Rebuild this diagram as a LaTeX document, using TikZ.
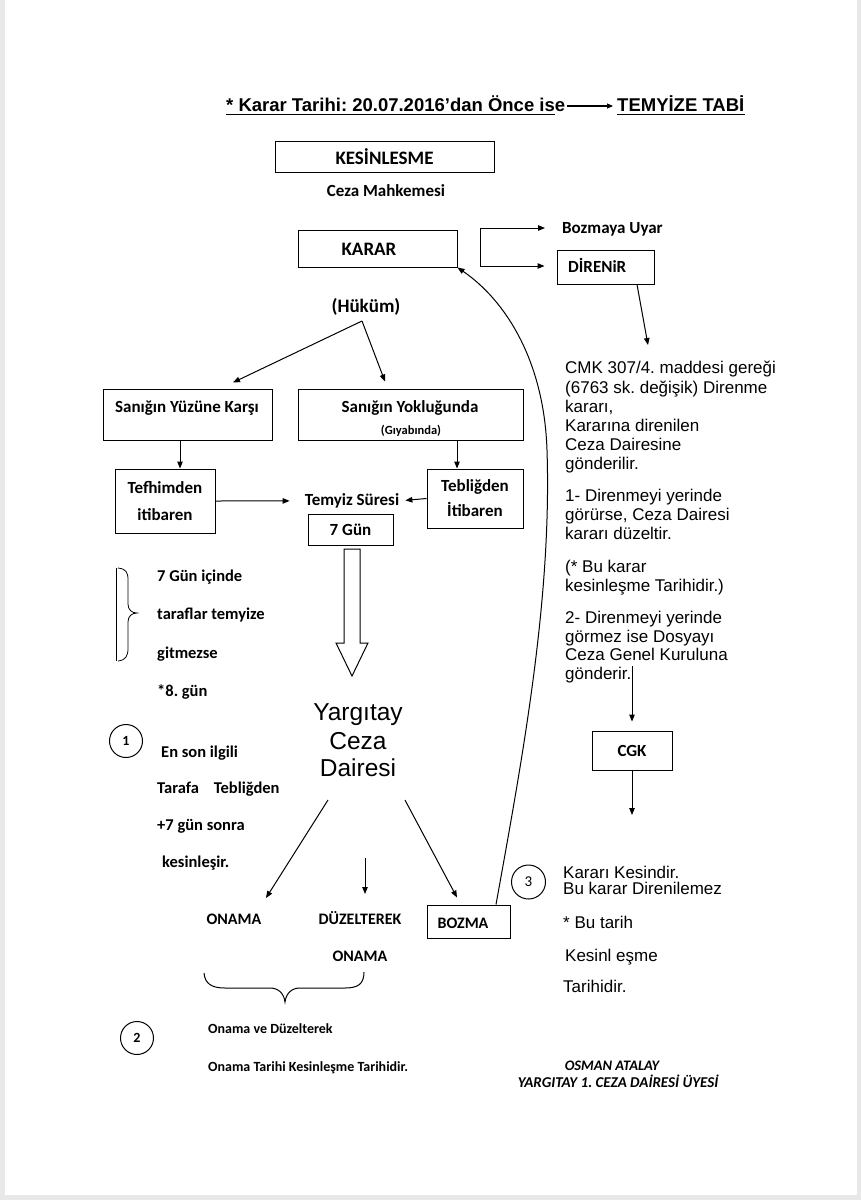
\documentclass[tikz,border=0pt]{standalone}
\usepackage{fontspec}
\setmainfont{Carlito}
\newfontfamily\arial{Liberation Sans}
\usetikzlibrary{arrows.meta}
\newcommand\myfs[1]{\fontsize{#1}{#1}\selectfont}
\frenchspacing
\begin{document}
\begin{tikzpicture}[x=1pt,y=-1pt,
  arr/.style={-{Triangle[length=7pt,width=5.5pt]}, line width=1pt},
  boxx/.style={draw, line width=1pt, inner sep=0pt},
  cb/.style={font=\bfseries\myfs{17}, inner sep=0pt},
  lt/.style={font=\bfseries\myfs{16.5}, inner sep=0pt, anchor=base west},
  ar/.style={font=\arial\myfs{17}, inner sep=0pt, anchor=base west},
  circ/.style={draw, circle, line width=1pt, minimum size=33pt, inner sep=0pt}]
\useasboundingbox (0,0) rectangle (861,1200);
\fill[black!9] (0,0) rectangle (861,1200);
\fill[white] (5,0) rectangle (857,1195);

% title
\node[font=\arial\bfseries\myfs{18.5}, inner sep=0pt, anchor=base west] (t1) at (226,111) {* Karar Tarihi: 20.07.2016’dan Önce ise};
\node[font=\arial\bfseries\myfs{18.5}, inner sep=0pt, anchor=base west] (t2) at (617,111) {TEMYİZE TABİ};
\draw[line width=1.1pt] ([yshift=-3.5pt]t1.base west) -- ([yshift=-3.5pt,xshift=-10pt]t1.base east);
\draw[line width=1.1pt] ([yshift=-3.5pt]t2.base west) -- ([yshift=-3.5pt]t2.base east);
\draw[-{Triangle[length=6pt,width=5pt]}, line width=1.1pt] ([xshift=2pt,yshift=5pt]t1.base east) -- ([xshift=-4pt,yshift=5pt]t2.base west);

% top
\node[boxx, minimum width=219pt, minimum height=31pt, font=\bfseries\myfs{19}] (kes) at (384.5,156.5) {KESİNLESME};
\node[cb, anchor=base] (ceza) at (386,196.5) {Ceza Mahkemesi};
\node[boxx, minimum width=159pt, minimum height=37pt] (karar) at (377.5,248.5) {};
\node[cb, font=\bfseries\myfs{19}, anchor=base] (kararT) at (369,255) {KARAR};

\coordinate (brt) at (480,228);
\coordinate (brb) at (480,266);
\node[cb, anchor=base west] (boz) at (562,233.5) {Bozmaya Uyar};
\node[boxx, minimum width=97pt, minimum height=34pt] (dir) at (605.5,267) {};
\node[cb, anchor=base west] (dirT) at (568,272.5) {DİRENiR};
\draw[line width=1pt] (brt) -- (brb);
\draw[arr, shorten >=17pt] (brt) -- (brt -| boz.west);
\draw[arr, shorten >=12pt] (brb) -- (brb -| dir.west);
\coordinate (cmkin) at (648,345);
\draw[arr] ([xshift=31.5pt]dir.south) -- (cmkin);

% right text
\node[ar] (r1) at (565,373.5) {CMK 307/4. maddesi gereği};
\node[ar] (r2) at (565,393.5) {(6763 sk. değişik) Direnme};
\node[ar] (r3) at (565,412.5) {kararı,};
\node[ar] (r4) at (565,431.5) {Kararına direnilen};
\node[ar] (r5) at (565,450.5) {Ceza Dairesine};
\node[ar] (r6) at (565,469.5) {gönderilir.};
\node[ar] (r7) at (565,501.5) {1- Direnmeyi yerinde};
\node[ar] (r8) at (565,520.5) {görürse, Ceza Dairesi};
\node[ar] (r9) at (565,539.5) {kararı düzeltir.};
\node[ar] (r10) at (565,572.5) {(* Bu karar};
\node[ar] (r11) at (565,591.5) {kesinleşme Tarihidir.)};
\node[ar] (r12) at (565,623.5) {2- Direnmeyi yerinde};
\node[ar] (r13) at (565,642.5) {görmez ise Dosyayı};
\node[ar] (r14) at (565,660.5) {Ceza Genel Kuruluna};
\node[ar] (r15) at (565,679.5) {gönderir.};

\node[boxx, cb, minimum width=80pt, minimum height=39pt] (cgk) at (632,750.5) {CGK};
\coordinate (gd) at (632,666);
\draw[arr, shorten >=9pt] (gd) -- (cgk.north);
\coordinate (cgkout) at (632,815);
\draw[arr] (cgk.south) -- (cgkout);

% hukum
\node[cb, font=\bfseries\myfs{19}, anchor=base] (hukum) at (366,312) {(Hüküm)};
\coordinate (hk) at (362,321);
\node[boxx, minimum width=169pt, minimum height=51pt] (yuz) at (187.5,414.5) {};
\node[cb, anchor=base] (yuzT) at (187,412.5) {Sanığın Yüzüne Karşı};
\node[boxx, minimum width=225pt, minimum height=51pt] (yok) at (410.5,414.5) {};
\node[cb, anchor=base] (yokT) at (410,412.5) {Sanığın Yokluğunda};
\node[cb, font=\bfseries\myfs{12.5}, anchor=base] (giy) at (411,434.5) {(Gıyabında)};
\draw[arr] (hk) -- ([xshift=45.5pt,yshift=6pt]yuz.north);
\draw[arr] (hk) -- ([xshift=-25.5pt,yshift=7pt]yok.north);

\node[boxx, minimum width=100pt, minimum height=64pt, align=center, font=\bfseries\fontsize{17}{27}\selectfont] (tef) at (165,501) {Tefhimden\\itibaren};
\node[boxx, minimum width=96pt, minimum height=59pt, align=center, font=\bfseries\fontsize{17}{25}\selectfont] (teb) at (475,498.5) {Tebliğden\\İtibaren};
\draw[arr] ([xshift=-7.5pt]yuz.south) -- ([xshift=15pt]tef.north);
\draw[arr] ([xshift=46.5pt]yok.south) -- ([xshift=-18pt]teb.north);
\node[cb, anchor=base] (tem) at (352,505.5) {Temyiz Süresi};
\draw[arr, shorten >=15pt] (tef.east) -- (tem.west);
\draw[arr, shorten >=6pt] (teb.west) -- (tem.east);
\node[boxx, cb, minimum width=85pt, minimum height=31pt] (gun) at (350.5,529.5) {7 Gün};

% hollow arrow
\draw[line width=1pt, fill=white] (344,549) -- (360,549) -- (360,643) -- (368,643) -- (352,676) -- (336,643) -- (344,643) -- cycle;

% Yargitay
\node[font=\arial\myfs{24.5}, inner sep=0pt, anchor=base] (y1) at (358,720) {Yargıtay};
\node[font=\arial\myfs{24.5}, inner sep=0pt, anchor=base] (y2) at (358,749) {Ceza};
\node[font=\arial\myfs{24.5}, inner sep=0pt, anchor=base] (y3) at (358,776) {Dairesi};

% left column
\draw[line width=0.8pt] (116,568) -- (116,661);
\draw[line width=0.8pt] (118,568) .. controls (126,569) and (128,572) .. (128,580) -- (128,604) .. controls (128,610) and (132,613) .. (137,613) .. controls (132,613) and (128,616) .. (128,622) -- (128,648) .. controls (128,656) and (126,660) .. (118,661);
\node[lt] (l1) at (157,581.5) {7 Gün içinde};
\node[lt] (l2) at (157,619.5) {taraflar temyize};
\node[lt] (l3) at (157,658.5) {gitmezse};
\node[lt] (l4) at (157,696.5) {*8. gün};
\node[circ, font=\bfseries\myfs{14}] (c1) at (126,741) {1};
\node[lt] (l5) at (161,757.5) {En son ilgili};
\node[lt] (l6) at (157,793.5) {Tarafa\ \ \ \ Tebliğden};
\node[lt] (l7) at (157,830.5) {+7 gün sonra};
\node[lt] (l8) at (162,867.5) {kesinleşir.};

% outcomes
\coordinate (a1) at (328,800);
\coordinate (a2) at (365,858);
\coordinate (a3) at (405,800);
\coordinate (b1) at (266,898);
\coordinate (b2) at (365,894);
\node[cb, font=\bfseries\myfs{16}, anchor=base] (on1) at (234,924.5) {ONAMA};
\node[cb, font=\bfseries\myfs{16}, anchor=base] (duz) at (360,924.5) {DÜZELTEREK};
\node[cb, font=\bfseries\myfs{16}, anchor=base] (on2) at (360,961.5) {ONAMA};
\node[boxx, minimum width=83pt, minimum height=33pt] (bozma) at (468.5,921.5) {};
\node[cb, font=\bfseries\myfs{16}, anchor=base] (bozT) at (463,928) {BOZMA};
\draw[arr] (a1) -- (b1);
\draw[arr] (a2) -- (b2);
\draw[arr] (a3) -- ([xshift=-11.5pt,yshift=7pt]bozma.north);
\draw[arr] ([xshift=27.5pt]bozma.north) .. controls (522,760) and (552,600) .. (547,450) .. controls (544,360) and (505,300) .. (karar.south east);

\node[circ, minimum size=34pt, font=\myfs{15}] (c3) at (528.5,882) {3};
\node[ar] (k1) at (563,878) {Kararı Kesindir.};
\node[ar] (k2) at (563,894) {Bu karar Direnilemez};
\node[ar] (k3) at (563,928) {* Bu tarih};
\node[ar] (k4) at (565,961) {Kesinl eşme};
\node[ar] (k5) at (563,992) {Tarihidir.};

% bottom brace
\draw[line width=1pt] (204,973) .. controls (205,984) and (212,988) .. (225,988) -- (270,988) .. controls (279,988) and (284,994) .. (285,1002) .. controls (286,994) and (291,988) .. (300,988) -- (345,988) .. controls (358,988) and (364,984) .. (364,972);

\node[circ, font=\bfseries\myfs{14}] (c2) at (137,1038) {2};
\node[font=\bfseries\myfs{14}, inner sep=0pt, anchor=base west] (n1) at (208,1033.5) {Onama ve Düzelterek};
\node[font=\bfseries\myfs{14}, inner sep=0pt, anchor=base west] (n2) at (208,1071.5) {Onama Tarihi Kesinleşme Tarihidir.};
\node[font=\bfseries\itshape\myfs{14.5}, inner sep=0pt, anchor=base] (s1) at (612,1070.5) {OSMAN ATALAY};
\node[font=\bfseries\itshape\myfs{15}, inner sep=0pt, anchor=base] (s2) at (618,1087.5) {YARGITAY 1. CEZA DAİRESİ ÜYESİ};
\end{tikzpicture}
\end{document}
